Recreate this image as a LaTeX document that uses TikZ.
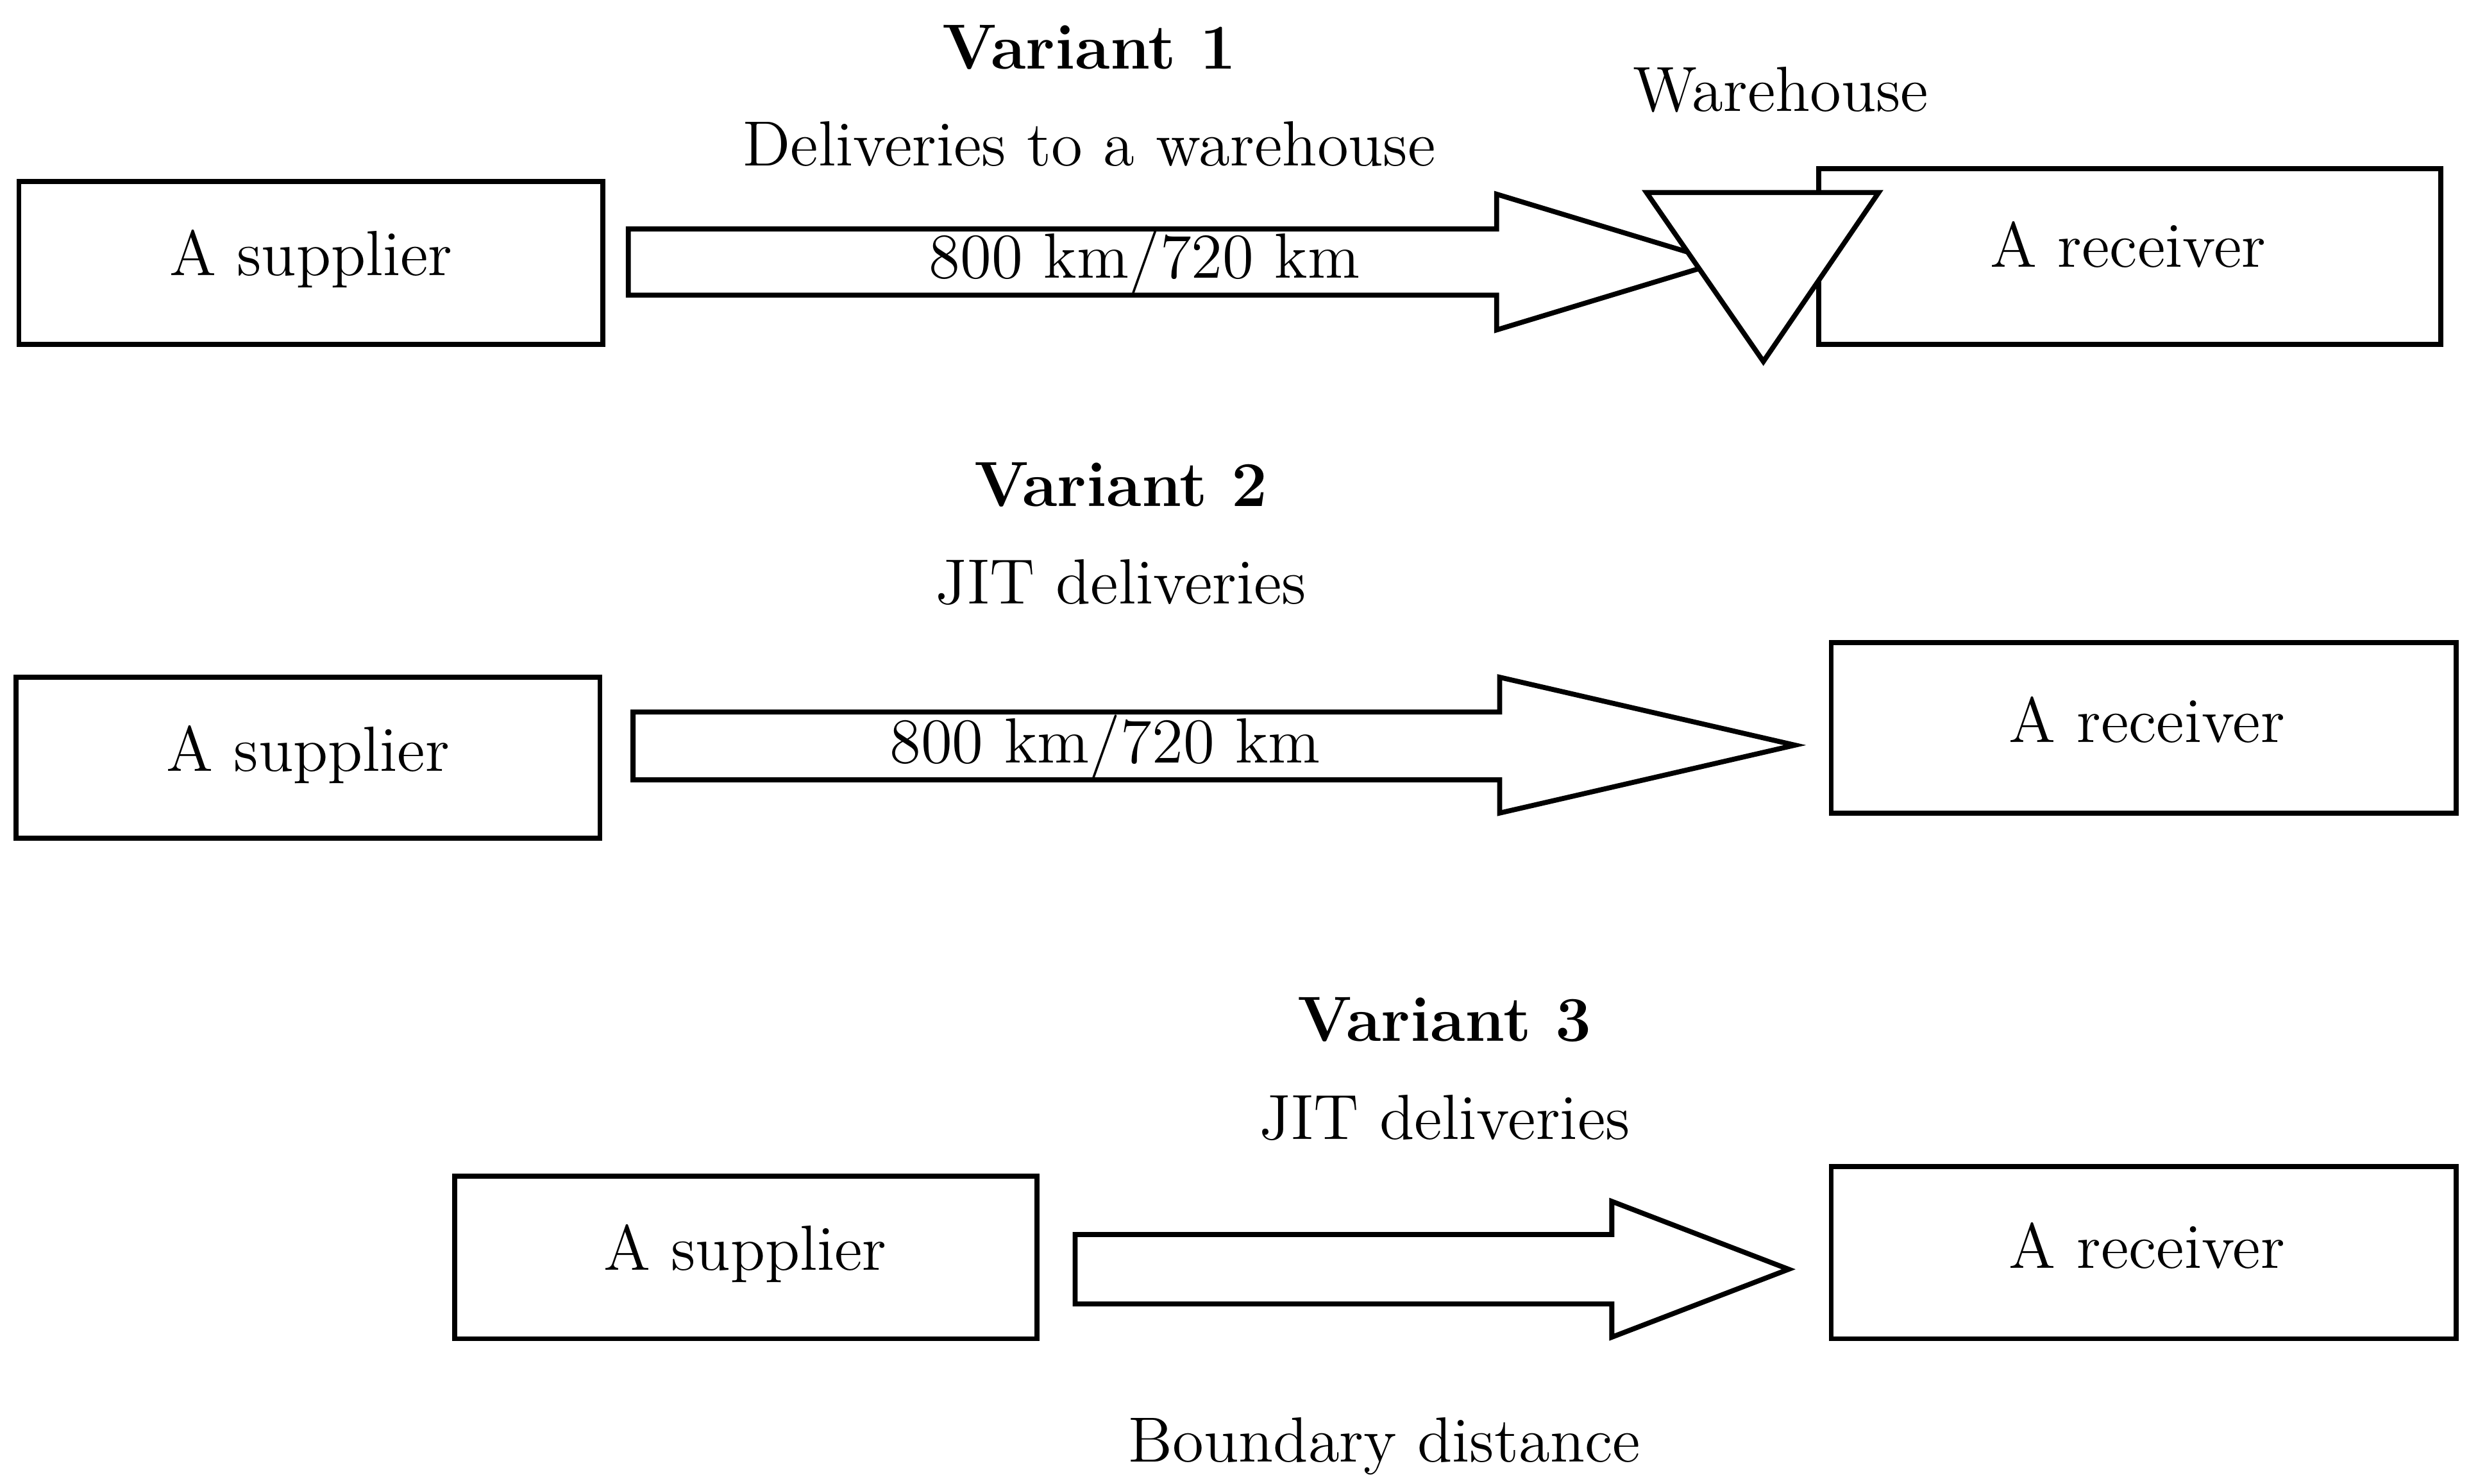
\documentclass[tikz,border=0pt]{standalone}
\begin{document}
\begin{tikzpicture}[x=0.01cm,y=-0.01cm,line width=0.9pt,
  box/.style={draw,fill=white},
  txt/.style={font=\fontsize{11.5}{13}\selectfont,inner sep=0pt},
  btxt/.style={font=\fontsize{11.5}{13}\selectfont\bfseries,inner sep=0pt}]
\useasboundingbox (0,0) rectangle (1564,940);
% Row 1
\draw[box] (12,115) rectangle (382,218);
\node[txt] (s1) at (197,164) {A supplier};
\draw[box] (1152,107) rectangle (1546,218);
\node[txt] (r1) at (1348,155) {A receiver};
\draw[box] (398,145) -- (948,145) -- (948,123) -- (1090,166) -- (948,209) -- (948,187) -- (398,187) -- cycle;
\node[txt] (d1) at (725,166) {800 km/720 km};
\draw[box] (1043,122) -- (1190,122) -- (1117,229) -- cycle;
\node[txt] (w) at (1128,57) {Warehouse};
\node[btxt] (v1) at (690,30) {Variant 1};
\node[txt] (t1) at (690,91) {Deliveries to a warehouse};
% Row 2
\node[btxt] (v2) at (710,307) {Variant 2};
\node[txt] (t2) at (710,369) {JIT deliveries};
\draw[box] (10,429) rectangle (380,531);
\node[txt] (s2) at (195,478) {A supplier};
\draw[box] (1160,407) rectangle (1556,515);
\node[txt] (r2) at (1360,456) {A receiver};
\draw[box] (401,451) -- (950,451) -- (950,429) -- (1137,472) -- (950,515) -- (950,494) -- (401,494) -- cycle;
\node[txt] (d2) at (700,473) {800 km/720 km};
% Row 3
\node[btxt] (v3) at (915,646) {Variant 3};
\node[txt] (t3) at (915,708) {JIT deliveries};
\draw[box] (288,745) rectangle (657,848);
\node[txt] (s3) at (472,794) {A supplier};
\draw[box] (1160,739) rectangle (1556,848);
\node[txt] (r3) at (1360,789) {A receiver};
\draw[box] (681,782) -- (1021,782) -- (1021,761) -- (1133,804) -- (1021,847) -- (1021,826) -- (681,826) -- cycle;
\node[txt] (b) at (877,916) {Boundary distance};
\end{tikzpicture}
\end{document}
